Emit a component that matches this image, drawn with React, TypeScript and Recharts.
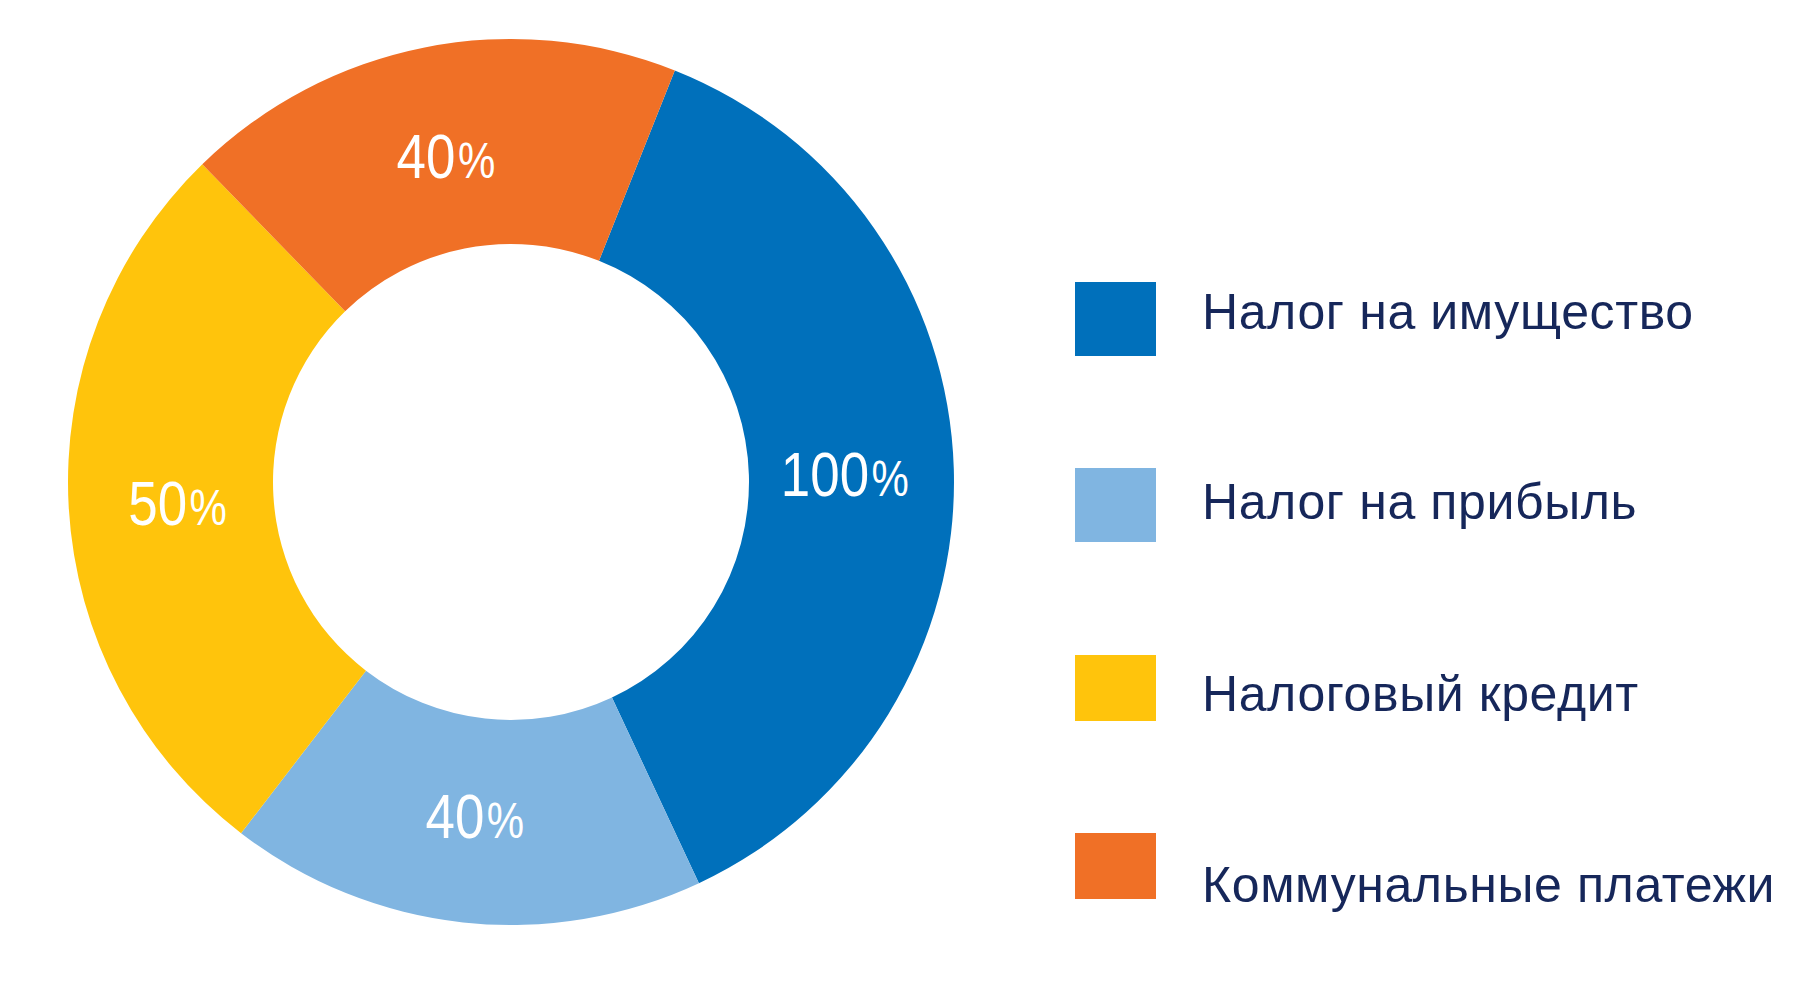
import React from "react";
import { PieChart, Pie, Cell, Legend } from "recharts";

// ---- data ----
const categories = [
  "Налог на имущество",
  "Налог на прибыль",
  "Налоговый кредит",
  "Коммунальные платежи",
];
const sliceShares = [37.0, 17.4, 27.3, 18.3];
const sliceLabels = ["100", "40", "50", "40"];
const sliceColors = ["#0070bb", "#80b5e1", "#ffc40c", "#f07026"];

const data = categories.map((name, i) => ({
  name,
  value: sliceShares[i],
  label: sliceLabels[i],
}));

// ---- style ----
const W = 1784;
const H = 989;
const TEXT_COLOR = "#16275a";
const LEGEND_FONT = "'Liberation Sans', Arial, Helvetica, sans-serif";
const LABEL_FONT = "'Liberation Sans', Arial, sans-serif";
const RAD = Math.PI / 180;

const legendRows = [
  { rectTop: 22, rectH: 74, baseline: 69 },
  { rectTop: 208, rectH: 74, baseline: 259 },
  { rectTop: 395, rectH: 66, baseline: 451 },
  { rectTop: 573, rectH: 66, baseline: 642 },
];

const renderLabel = (props: any) => {
  const { cx, cy, midAngle, index } = props;
  const r = 334;
  const x = cx + r * Math.cos(-midAngle * RAD);
  const y = cy + r * Math.sin(-midAngle * RAD);
  return (
    <text
      transform={`translate(${x},${y + 24}) scale(0.84,1)`}
      x={0}
      y={0}
      textAnchor="middle"
      fill="#ffffff"
      fontFamily={LABEL_FONT}
    >
      <tspan fontSize={63}>{data[index].label}</tspan>
      <tspan fontSize={50} dx={3}>%</tspan>
    </text>
  );
};

const renderLegend = (props: any) => {
  const payload = props.payload || [];
  const ordered = categories
    .map((name) => payload.find((p: any) => p.value === name))
    .filter(Boolean);
  return (
    <svg width={730} height={700} style={{ display: "block" }}>
      {ordered.map((entry: any, i: number) => {
        const row = legendRows[i];
        return (
          <g key={entry.value}>
            <rect
              x={15}
              y={row.rectTop}
              width={81}
              height={row.rectH}
              fill={entry.color}
            />
            <text
              x={142}
              y={row.baseline}
              fill={TEXT_COLOR}
              fontSize={50}
              letterSpacing={0.6}
              fontFamily={LEGEND_FONT}
            >
              {entry.value}
            </text>
          </g>
        );
      })}
    </svg>
  );
};

export default function App() {
  return (
    <div style={{ width: W, height: H, background: "#fff" }}>
      <PieChart width={W} height={H} margin={{ top: 0, right: 0, bottom: 0, left: 0 }}>
        <Pie
          data={data}
          dataKey="value"
          nameKey="name"
          cx={503}
          cy={474}
          innerRadius={238}
          outerRadius={443}
          startAngle={68.3}
          endAngle={-291.7}
          stroke="none"
          label={renderLabel}
          labelLine={false}
          isAnimationActive={false}
        >
          {data.map((d, i) => (
            <Cell key={d.name} fill={sliceColors[i]} />
          ))}
        </Pie>
        <Legend
          content={renderLegend}
          itemSorter={null as any}
          wrapperStyle={{ position: "absolute", left: 1052, top: 252, width: 730, height: 700 }}
        />
      </PieChart>
    </div>
  );
}
